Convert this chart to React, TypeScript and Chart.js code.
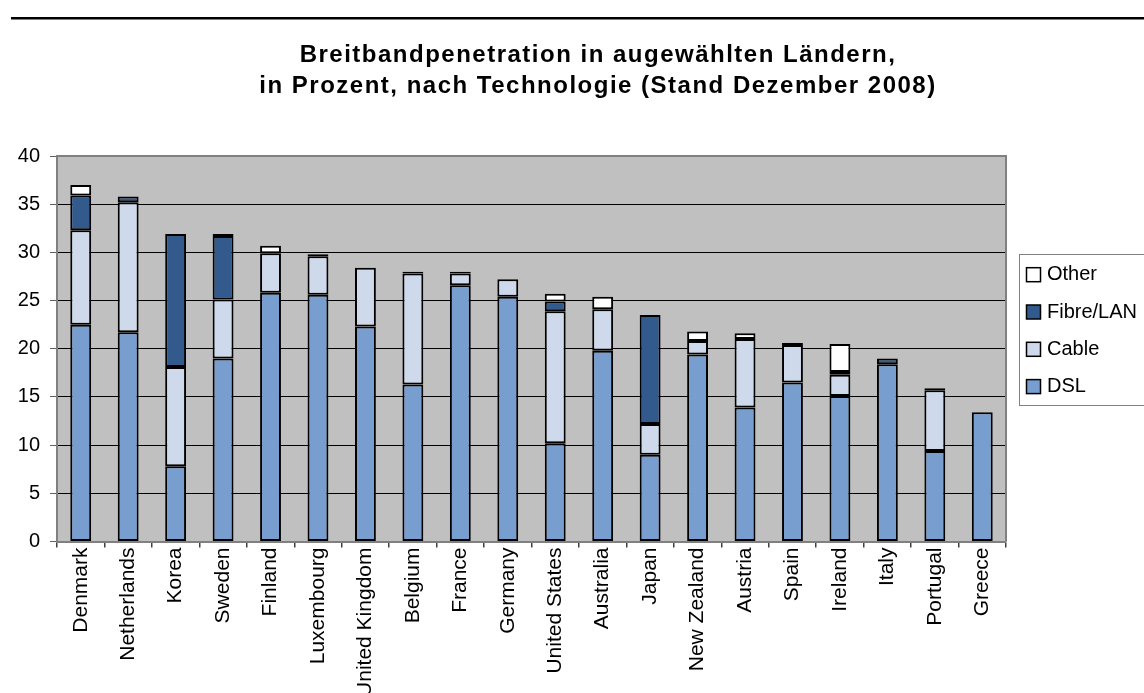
import React, { useEffect, useRef } from "react";
import { Chart, registerables } from "chart.js";

Chart.register(...registerables);

const FONT = '"Liberation Sans", Arial, sans-serif';

const titleLines = [
  "Breitbandpenetration in augewählten Ländern,",
  "in Prozent, nach Technologie (Stand Dezember 2008)",
];

const countries = [
  "Denmark", "Netherlands", "Korea", "Sweden", "Finland", "Luxembourg",
  "United Kingdom", "Belgium", "France", "Germany", "United States",
  "Australia", "Japan", "New Zealand", "Austria", "Spain", "Ireland",
  "Italy", "Portugal", "Greece",
];

const dsl = [22.5, 21.7, 7.8, 19.0, 25.8, 25.6, 22.3, 16.3, 26.6, 25.4, 10.2, 19.8, 9.0, 19.4, 13.9, 16.5, 15.1, 18.4, 9.4, 13.4];
const cable = [9.8, 13.5, 10.3, 6.1, 4.1, 4.0, 6.1, 11.5, 1.2, 1.8, 13.7, 4.3, 3.2, 1.4, 7.1, 3.9, 2.2, null, 6.3, null];
const fibre = [3.6, 0.6, 13.8, 6.6, null, 0.2, null, 0.2, 0.2, null, 1.0, null, 11.3, null, null, 0.2, 0.3, 0.6, 0.2, null];
const other = [1.1, null, null, 0.2, 0.8, null, null, null, null, null, 0.8, 1.3, null, 1.0, 0.6, null, 2.9, null, null, null];

const seriesNames = ["DSL", "Cable", "Fibre/LAN", "Other"];
const seriesColors = ["#779ECF", "#CED9EB", "#335A8C", "#FFFFFF"];
const yTicks = { min: 0, max: 40, step: 5 };

const decorPlugin = {
  id: "decor",
  beforeDraw(chart: any) {
    const { ctx, chartArea: a } = chart;
    ctx.save();
    ctx.fillStyle = "#ffffff";
    ctx.fillRect(0, 0, chart.width, chart.height);
    ctx.fillStyle = "#000";
    ctx.fillRect(11, 17, chart.width - 11, 2.5);
    ctx.fillStyle = "#C0C0C0";
    ctx.fillRect(a.left, a.top, a.right - a.left, a.bottom - a.top);
    // title
    ctx.fillStyle = "#000";
    ctx.font = `bold 24px ${FONT}`;
    ctx.textAlign = "center";
    ctx.textBaseline = "alphabetic";
    try { (ctx as any).letterSpacing = "1.5px"; } catch (e) {}
    ctx.fillText(titleLines[0], 598, 62);
    ctx.fillText(titleLines[1], 598, 93);
    try { (ctx as any).letterSpacing = "0px"; } catch (e) {}
    ctx.restore();
  },
  beforeDatasetsDraw(chart: any) {
    const { ctx, chartArea: a } = chart;
    ctx.save();
    ctx.strokeStyle = "#808080";
    ctx.lineWidth = 2;
    ctx.beginPath();
    ctx.moveTo(a.left, a.top);
    ctx.lineTo(a.right, a.top);
    ctx.lineTo(a.right, a.bottom);
    ctx.stroke();
    ctx.restore();
  },
  afterDraw(chart: any) {
    const { ctx } = chart;
    const ds = chart.data.datasets;
    ctx.save();
    ctx.strokeStyle = "#808080";
    ctx.lineWidth = 1;
    ctx.strokeRect(1019.5, 254.5, 140, 151);
    ctx.font = `20px ${FONT}`;
    ctx.textAlign = "left";
    ctx.textBaseline = "middle";
    let k = 0;
    for (let i = ds.length - 1; i >= 0; i--) {
      const cy = 274.7 + k * 37.3;
      ctx.fillStyle = ds[i].backgroundColor;
      ctx.fillRect(1026.5, cy - 7, 14, 14);
      ctx.strokeStyle = "#000";
      ctx.lineWidth = 1.5;
      ctx.strokeRect(1026.5, cy - 7, 14, 14);
      ctx.fillStyle = "#000";
      ctx.fillText(ds[i].label, 1047, cy);
      k++;
    }
    ctx.restore();
  },
};

export default function App() {
  const ref = useRef<HTMLCanvasElement | null>(null);
  useEffect(() => {
    document.body.style.margin = "0";
    const canvas = ref.current!;
    const values = [dsl, cable, fibre, other];
    const chart = new Chart(canvas, {
      type: "bar",
      data: {
        labels: countries,
        datasets: seriesNames.map((name, i) => ({
          label: name,
          data: values[i] as any,
          backgroundColor: seriesColors[i],
          borderColor: "#000",
          borderWidth: 2,
          borderSkipped: false,
          categoryPercentage: 1,
          barPercentage: 0.44,
        })),
      },
      options: {
        responsive: false,
        animation: false,
        devicePixelRatio: 1,
        layout: { padding: { top: 156, right: 138, left: 0, bottom: 0 } },
        plugins: {
          legend: { display: false },
          title: { display: false },
          tooltip: { enabled: false },
        },
        scales: {
          x: {
            stacked: true,
            grid: {
              offset: true,
              drawOnChartArea: false,
              tickLength: 6,
              tickColor: "#404040",
              lineWidth: 1.5,
            },
            border: { color: "#808080", width: 2 },
            ticks: {
              autoSkip: false,
              minRotation: 90,
              maxRotation: 90,
              padding: 0,
              color: "#000",
              font: { family: FONT, size: 21 },
            },
            afterFit(scale: any) {
              scale.height = 151.5;
            },
          },
          y: {
            stacked: true,
            min: yTicks.min,
            max: yTicks.max,
            ticks: {
              stepSize: yTicks.step,
              padding: 10,
              color: "#000",
              font: { family: FONT, size: 20 },
            },
            grid: {
              color: "#000",
              lineWidth: 1,
              tickLength: 7,
              tickColor: "#606060",
            },
            border: { color: "#808080", width: 2 },
            afterFit(scale: any) {
              scale.width = 57;
            },
          },
        },
      },
      plugins: [decorPlugin],
    });
    return () => chart.destroy();
  }, []);
  return (
    <div style={{ position: "fixed", left: 0, top: 0, width: 1144, height: 693 }}>
      <canvas ref={ref} width={1144} height={693} style={{ width: 1144, height: 693 }} />
    </div>
  );
}
